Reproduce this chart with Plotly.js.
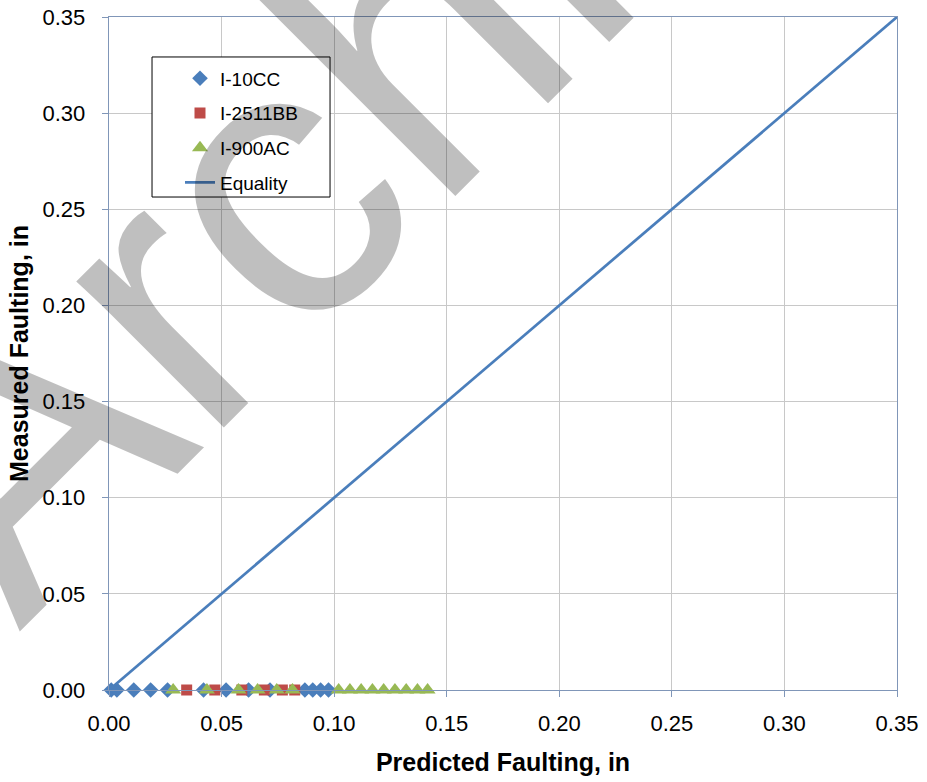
<!DOCTYPE html>
<html>
<head>
<meta charset="utf-8">
<script src="https://cdn.plot.ly/plotly-3.0.1.min.js"></script>
<style>html,body{margin:0;padding:0;background:#fff;}#chart{width:927px;height:782px;}</style>
</head>
<body>
<div id="chart"></div>
<script>
// Predicted faulting (in) for each section; measured faulting is zero for all
const i10ccPredicted   = [0.001, 0.0035, 0.011, 0.0185, 0.026, 0.042, 0.052, 0.062, 0.0715, 0.087, 0.0905, 0.094, 0.0975];
const i10ccMeasured    = [0, 0, 0, 0, 0, 0, 0, 0, 0, 0, 0, 0, 0];
const i2511bbPredicted = [0.0345, 0.047, 0.059, 0.069, 0.077, 0.0825];
const i2511bbMeasured  = [0, 0, 0, 0, 0, 0];
const i900acPredicted  = [0.0285, 0.0435, 0.0575, 0.066, 0.0745, 0.0815, 0.102, 0.107, 0.112, 0.117, 0.122, 0.127, 0.132, 0.137, 0.1415];
const i900acMeasured   = [0, 0, 0, 0, 0, 0, 0, 0, 0, 0, 0, 0, 0, 0, 0];
const equalityX = [0, 0.35];
const equalityY = [0, 0.35];
const seriesNames = ['I-10CC', 'I-2511BB', 'I-900AC', 'Equality'];
const tickValues = [0, 0.05, 0.10, 0.15, 0.20, 0.25, 0.30, 0.35];

const FONT = '"Liberation Sans", Arial, sans-serif';
const traces = [
  {x: i10ccPredicted, y: i10ccMeasured, name: seriesNames[0], legendgroup: 'a', type: 'scatter', mode: 'markers',
   cliponaxis: false, marker: {symbol: 'diamond', size: 12, color: '#4A7EBB', line: {width: 0}}},
  {x: i2511bbPredicted, y: i2511bbMeasured, name: seriesNames[1], legendgroup: 'b', type: 'scatter', mode: 'markers',
   cliponaxis: false, marker: {symbol: 'square', size: 11, color: '#BE4B48', line: {width: 0}}},
  {x: i900acPredicted, y: i900acMeasured, name: seriesNames[2], legendgroup: 'c', type: 'scatter', mode: 'markers',
   cliponaxis: false, marker: {symbol: 'triangle-up', size: 14, color: '#98B954', line: {width: 0}}},
  {x: equalityX, y: equalityY, name: seriesNames[3], legendgroup: 'd', type: 'scatter', mode: 'lines',
   cliponaxis: false, line: {color: '#4A7EBB', width: 2.75}}
];

const axisCommon = {
  range: [0, 0.35], tickvals: tickValues, tickformat: '.2f',
  showgrid: true, gridcolor: '#C8C8C8', gridwidth: 1,
  showline: true, linecolor: '#8096B8', linewidth: 1.3, mirror: true,
  ticks: 'outside', ticklen: 6, tickcolor: '#8096B8', tickwidth: 1,
  zeroline: false, fixedrange: true,
  tickfont: {family: FONT, size: 22, color: '#000'}
};

const layout = {
  width: 927, height: 782,
  margin: {l: 109, r: 30, t: 17, b: 92},
  paper_bgcolor: '#fff', plot_bgcolor: '#fff',
  showlegend: true,
  font: {family: FONT, color: '#000'},
  xaxis: Object.assign({}, axisCommon, {
    ticklabelstandoff: 7,
    title: {text: '<b>Predicted Faulting, in</b>', font: {family: FONT, size: 25, color: '#000'}, standoff: 18}
  }),
  yaxis: Object.assign({}, axisCommon, {
    ticklabelstandoff: 12,
    title: {text: '<b>Measured Faulting, in</b>', font: {family: FONT, size: 25, color: '#000'}, standoff: 6}
  }),
  legend: {
    x: 0.0901, y: 0.937, xanchor: 'left', yanchor: 'top',
    bgcolor: 'rgba(0,0,0,0)', borderwidth: 0,
    font: {family: FONT, size: 19, color: '#000'},
    tracegroupgap: 7, itemwidth: 30
  },
  shapes: [{
    type: 'rect', xref: 'paper', yref: 'paper',
    x0: 0.0546, x1: 0.2805, y0: 0.7325, y1: 0.9406,
    line: {color: '#000', width: 1}, fillcolor: '#fff', layer: 'above'
  }],
  annotations: [{
    text: 'Archived', xref: 'paper', yref: 'paper', x: 0.4505, y: 1.0327,
    xanchor: 'center', yanchor: 'middle', showarrow: false, textangle: -45,
    font: {family: FONT, size: 393, color: 'rgba(0,0,0,0.25)'}
  }]
};

Plotly.newPlot('chart', traces, layout, {displayModeBar: false, staticPlot: true});
</script>
</body>
</html>
